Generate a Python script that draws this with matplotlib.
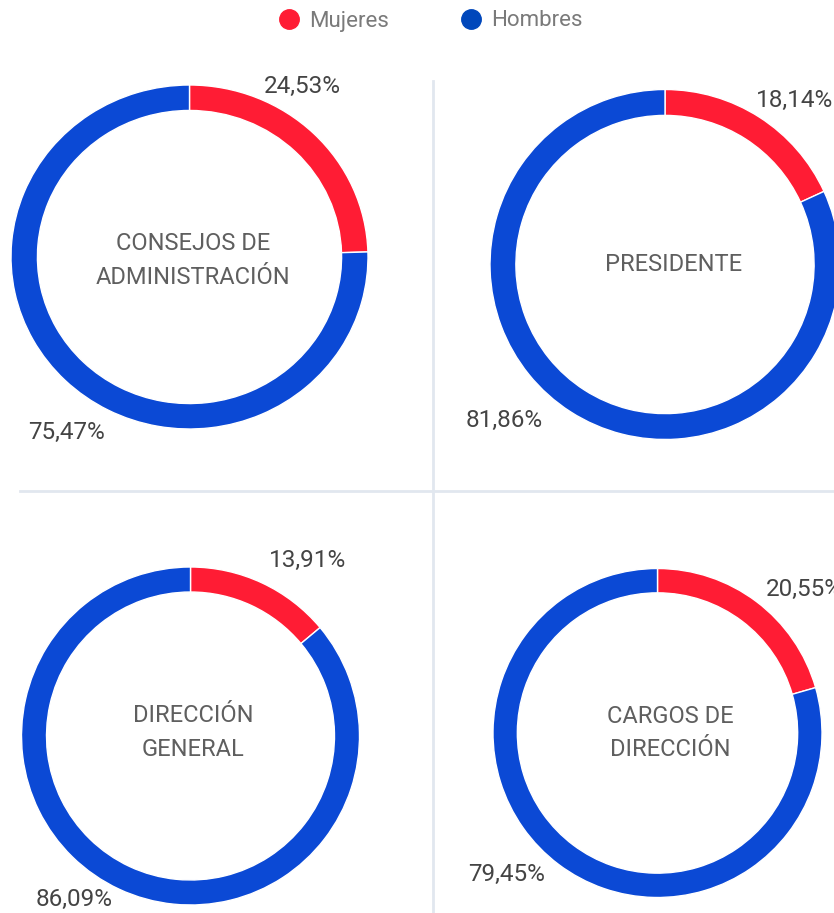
import matplotlib.pyplot as plt
from matplotlib.lines import Line2D

# data
categories = ["CONSEJOS DE\nADMINISTRACIÓN", "PRESIDENTE", "DIRECCIÓN\nGENERAL", "CARGOS DE\nDIRECCIÓN"]
series = ["Mujeres", "Hombres"]
mujeres = [24.53, 18.14, 13.91, 20.55]
hombres = [75.47, 81.86, 86.09, 79.45]

# layout (pixels): donut centre and radii
W, H = 834, 913
centres = [(189.5, 257), (665, 264.5), (190.5, 736), (657.5, 733)]
radii = [(178.5, 172), (175, 175), (169, 169), (164.5, 164.5)]
# label offsets in units of radius
muj_pos = [(0.63, 0.99), (0.74, 0.94), (0.69, 1.04), (0.89, 0.875)]
hom_pos = [(-0.69, -1.02), (-0.92, -0.89), (-0.69, -0.97), (-0.915, -0.86)]
title_shift = [(0.02, -0.02), (0.05, 0.0), (0.015, 0.02), (0.075, 0.0)]

RED = "#ff1c34"
BLUE = "#0b49d5"
LEG_BLUE = "#0047bb"

plt.rcParams["font.family"] = ["Roboto", "DejaVu Sans"]


def pct(v):
    return f"{v:.2f}".replace(".", ",") + "%"


def main():
    fig = plt.figure(figsize=(W / 100, H / 100), dpi=100)
    fig.patch.set_facecolor("white")

    # separators
    fig.add_artist(Line2D([433 / W, 433 / W], [0, 1 - 81 / H], transform=fig.transFigure,
                          color="#e1e7ef", lw=2))
    fig.add_artist(Line2D([20 / W, 1], [1 - 491 / H, 1 - 491 / H], transform=fig.transFigure,
                          color="#e1e7ef", lw=2))

    for i, cat in enumerate(categories):
        cx, cy = centres[i]
        rx, ry = radii[i]
        ax = fig.add_axes([(cx - rx) / W, 1 - (cy + ry) / H, 2 * rx / W, 2 * ry / H])
        ax.pie([mujeres[i], hombres[i]], colors=[RED, BLUE], startangle=90,
               counterclock=False, radius=1,
               wedgeprops=dict(width=0.148, edgecolor="white", linewidth=1))
        ax.set_aspect("auto")
        ax.set_xlim(-1, 1)
        ax.set_ylim(-1, 1)
        ax.axis("off")

        ax.text(title_shift[i][0], title_shift[i][1], cat, ha="center", va="center",
                fontsize=17, color="#5f5f5f", linespacing=1.6, clip_on=False)
        ax.text(muj_pos[i][0], muj_pos[i][1], pct(mujeres[i]), ha="center", va="center",
                fontsize=17.5, color="#444444", clip_on=False)
        ax.text(hom_pos[i][0], hom_pos[i][1], pct(hombres[i]), ha="center", va="center",
                fontsize=17.5, color="#444444", clip_on=False)

    handles = [Line2D([], [], marker="o", ls="none", markersize=14, color=c)
               for c in [RED, LEG_BLUE]]
    leg = fig.legend(handles, series, loc="center", bbox_to_anchor=(430 / W, 1 - 21 / H),
                     ncol=2, frameon=False, fontsize=16, handlelength=1.0,
                     handletextpad=0.4, columnspacing=3.2)
    for t in leg.get_texts():
        t.set_color("#7a7a7a")

    fig.savefig("out.png", dpi=100)


if __name__ == "__main__":
    main()
